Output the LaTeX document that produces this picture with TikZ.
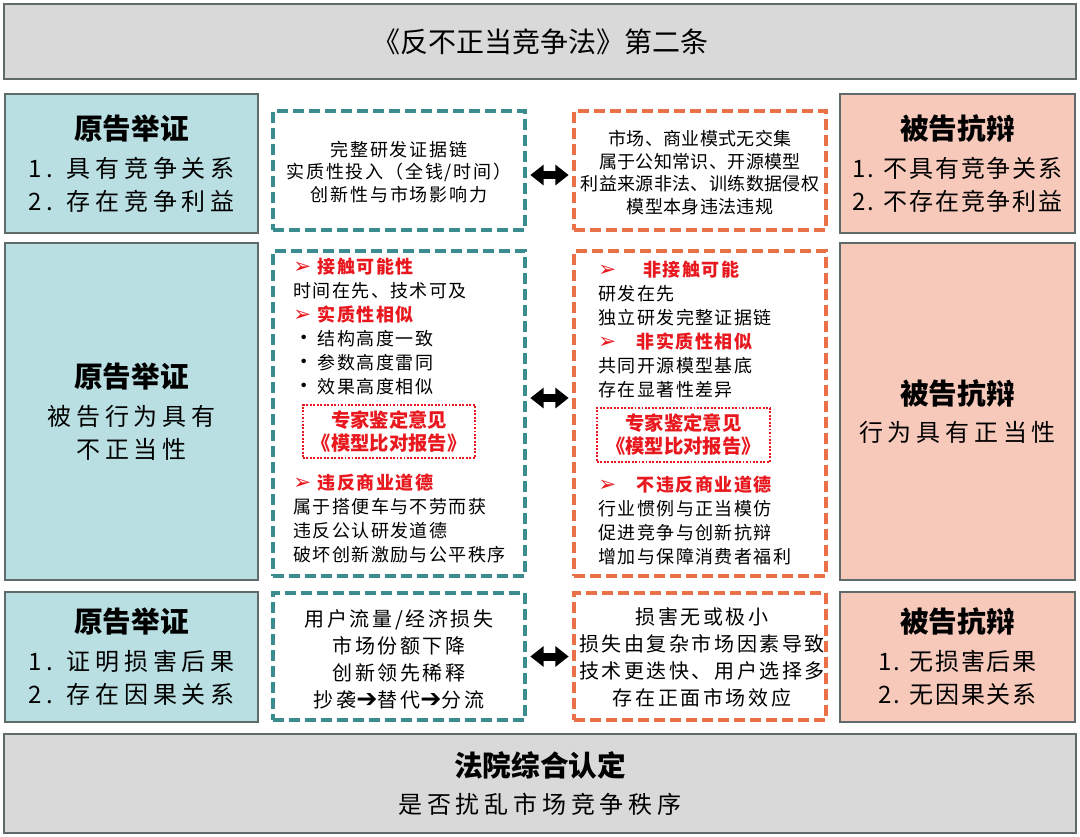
\documentclass[tikz,border=0pt]{standalone}
\usepackage{fontspec}
\setmainfont{Noto Sans CJK SC}
\newfontfamily\dingfont{DejaVu Sans}
\usepackage{tikz}
\usetikzlibrary{arrows.meta}

\definecolor{framegray}{RGB}{95,107,107}
\definecolor{bandgray}{RGB}{217,217,217}
\definecolor{plaintfill}{RGB}{185,223,226}
\definecolor{defendfill}{RGB}{246,201,187}
\definecolor{tealdash}{RGB}{58,140,142}
\definecolor{orangedash}{RGB}{234,112,72}
\definecolor{hdred}{RGB}{232,24,30}

\newdimen\pxu \pxu=0.75pt
\newcommand\boxtitle[1]{{\rmfamily\fontsize{21.5}{26}\selectfont\bfseries #1}}
\newcommand\hd[2][18.5pt]{\makebox[#1][l]{\color{hdred}\dingfont\fontsize{16}{16}\selectfont\char"27A2}{\color{hdred}\bfseries #2}}
\newcommand\bul{\makebox[18.5pt][l]{\fontsize{16}{16}\selectfont•}}
\newcommand\thento{{\dingfont\fontsize{19}{19}\selectfont\char"2794}}

\begin{document}
\begin{tikzpicture}[x=0.75pt,y=-0.75pt,
  frame/.style={draw=framegray,line width=1.5pt,inner sep=0pt,align=center},
  band/.style={frame,fill=bandgray},
  plaint/.style={frame,fill=plaintfill},
  defend/.style={frame,fill=defendfill},
  claimbox/.style={draw=tealdash,line width=3pt,dash pattern=on 8pt off 4pt},
  replybox/.style={draw=orangedash,line width=3pt,dash pattern=on 8pt off 4pt},
  expert/.style={draw=hdred,line width=1.8pt,dash pattern=on 1.4pt off 1.2pt,text=hdred,align=center,
    font=\fontsize{14.5}{17.3}\selectfont\bfseries},
  sidetxt/.style={font=\fontsize{18}{24.75}\selectfont\addfontfeature{LetterSpace=#1}},
  txtA/.style={inner sep=0pt,align=center,font=\fontsize{13.5}{17}\selectfont\addfontfeature{LetterSpace=#1}},
  txtB/.style={inner sep=0pt,align=left,anchor=west,font=\fontsize{13.5}{18}\selectfont\addfontfeature{LetterSpace=8}},
  txtC/.style={inner sep=0pt,align=center,font=\fontsize{15}{20.25}\selectfont\addfontfeature{LetterSpace=13}},
  versus/.style={line width=6pt,{Triangle[length=10pt,width=15pt]}-{Triangle[length=10pt,width=15pt]},
    shorten <=2.5pt,shorten >=2.5pt}]
\useasboundingbox (0,0) rectangle (1080,837);
\fill[white] (0,0) rectangle (1080,837);

% title and verdict bands
\node[band,minimum width=1072\pxu,minimum height=75\pxu,font=\fontsize{21}{26}\selectfont] (law) at (540,42) {《反不正当竞争法》第二条};
\node[band,sidetxt=20,minimum width=1072\pxu,minimum height=99\pxu] (court) at (540,783.5)
  {\boxtitle{法院综合认定}\\[3pt] 是否扰乱市场竞争秩序};

% plaintiff side
\node[plaint,sidetxt=20,minimum width=253\pxu,minimum height=139\pxu] (plA) at (131.5,163.5)
  {\boxtitle{原告举证}\\[3.5pt] 1. 具有竞争关系\\ 2. 存在竞争利益};
\node[plaint,sidetxt=20,minimum width=253\pxu,minimum height=336\pxu] (plB) at (131.5,411.5)
  {\boxtitle{原告举证}\\[3.5pt] 被告行为具有\\ 不正当性};
\node[plaint,sidetxt=20,minimum width=253\pxu,minimum height=130\pxu] (plC) at (131.5,656.5)
  {\boxtitle{原告举证}\\[3.5pt] 1. 证明损害后果\\ 2. 存在因果关系};

% defendant side
\node[defend,sidetxt=7,minimum width=235\pxu,minimum height=139\pxu] (dfA) at (957.5,163.5)
  {\boxtitle{被告抗辩}\\[3.5pt] 1. 不具有竞争关系\\ 2. 不存在竞争利益};
\node[defend,sidetxt=20,minimum width=235\pxu,minimum height=336\pxu] (dfB) at (957.5,411.5)
  {\boxtitle{被告抗辩}\\[3.5pt] 行为具有正当性};
\node[defend,sidetxt=7,minimum width=235\pxu,minimum height=130\pxu] (dfC) at (957.5,656.5)
  {\boxtitle{被告抗辩}\\[3.5pt] 1. 无损害后果\\ 2. 无因果关系};

% evidence boxes
\node[claimbox,minimum width=252\pxu,minimum height=119\pxu] (clA) at (399,170.5) {};
\node[replybox,minimum width=252\pxu,minimum height=119\pxu] (rpA) at (700,170.5) {};
\node[claimbox,minimum width=252\pxu,minimum height=325\pxu] (clB) at (399,413.5) {};
\node[replybox,minimum width=252\pxu,minimum height=325\pxu] (rpB) at (700,413.5) {};
\node[claimbox,minimum width=252\pxu,minimum height=127\pxu] (clC) at (399,656.5) {};
\node[replybox,minimum width=252\pxu,minimum height=127\pxu] (rpC) at (700,656.5) {};

\node[txtA=10] (clAtxt) at (399,172) {完整研发证据链\\ 实质性投入（全钱/时间）\\ 创新性与市场影响力};
\node[txtA=2] (rpAtxt) at (700,172.5) {市场、商业模式无交集\\ 属于公知常识、开源模型\\ 利益来源非法、训练数据侵权\\ 模型本身违法违规};

\node[txtB] (clB1) at (293,327) {\hd{接触可能性}\\ 时间在先、技术可及\\ \hd{实质性相似}\\ \bul 结构高度一致\\ \bul 参数高度雷同\\ \bul 效果高度相似};
\node[expert,minimum width=172\pxu,minimum height=53\pxu] (exL) at (389,431.5) {专家鉴定意见\\《模型比对报告》};
\node[txtB] (clB2) at (293,518) {\hd{违反商业道德}\\ 属于搭便车与不劳而获\\ 违反公认研发道德\\ 破坏创新激励与公平秩序};

\node[txtB] (rpB1) at (598,330) {\hd[33.75pt]{非接触可能}\\ 研发在先\\ 独立研发完整证据链\\ \hd[29pt]{非实质性相似}\\ 共同开源模型基底\\ 存在显著性差异};
\node[expert,minimum width=173\pxu,minimum height=54\pxu] (exR) at (683.5,435) {专家鉴定意见\\《模型比对报告》};
\node[txtB] (rpB2) at (598,520) {\hd[29pt]{不违反商业道德}\\ 行业惯例与正当模仿\\ 促进竞争与创新抗辩\\ 增加与保障消费者福利};

\node[txtC] (clCtxt) at (399,659) {用户流量/经济损失\\ 市场份额下降\\ 创新领先稀释\\ 抄袭\thento 替代\thento 分流};
\node[txtC] (rpCtxt) at (702,657) {损害无或极小\\ 损失由复杂市场因素导致\\ 技术更迭快、用户选择多\\ 存在正面市场效应};

% claim vs reply
\draw[versus] ([yshift=-3.4pt]clA.east) -- ([yshift=-3.4pt]rpA.west);
\draw[versus] ([yshift=11.6pt]clB.east) -- ([yshift=11.6pt]rpB.west);
\draw[versus] (clC.east) -- (rpC.west);
\end{tikzpicture}
\end{document}
